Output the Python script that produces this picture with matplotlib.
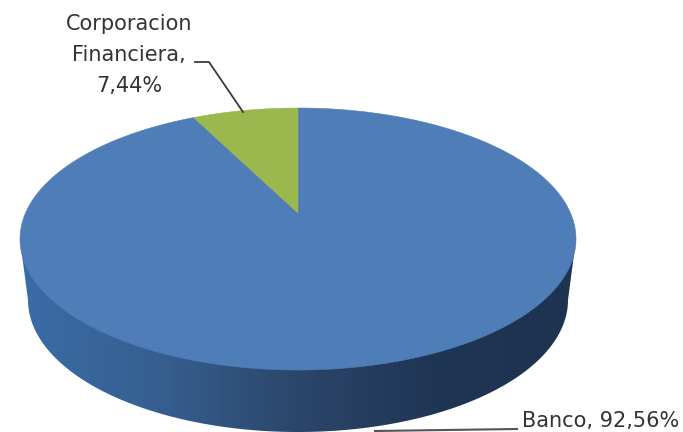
import numpy as np
import matplotlib
matplotlib.use("Agg")
import matplotlib.pyplot as plt
from matplotlib.colors import LinearSegmentedColormap
from matplotlib.patches import Polygon

plt.rcParams["font.family"] = "DejaVu Sans"

# pie data
categories = ["Banco", "Corporacion\nFinanciera,\n"]
shares = [92.56, 7.44]
colors = ["#4f7db8", "#9bb84f"]
side_colors = ["#3a6ca6", "#365f90", "#2b466a", "#1f3554", "#1e3350"]

W, H = 683, 432
cx = 298
far_y, apex_y, near_y = 108, 213, 370  # top ellipse, perspective centre
half_width = 278
side_cy, side_b, side_a = 300, 132, 270

# perspective map of the unit circle onto the top face
c = (near_y + far_y - 2 * apex_y) / (near_y - far_y)
a = far_y * c + far_y - apex_y
d = half_width * np.sqrt(1 - c ** 2)


def project(u, v):
    w = c * v + 1
    return cx + d * u / w, (a * v + apex_y) / w


def wedge(start, sweep):
    # angles in degrees, clockwise from 12 o'clock
    t = np.radians(np.linspace(start, start + sweep, 300))
    u = np.concatenate([[0], np.sin(t)])
    v = np.concatenate([[0], np.cos(t)])
    return np.column_stack(project(u, v))


fig = plt.figure(figsize=(W / 100, H / 100), dpi=100)
ax = fig.add_axes([0, 0, 1, 1])
ax.set_xlim(0, W)
ax.set_ylim(H, 0)
ax.axis("off")

# side of the cylinder, gradient clipped to the outline
t = np.linspace(0, 2 * np.pi, 600)
top_x, top_y = project(np.cos(t), np.sin(t))
right = np.argmax(top_x)
left = np.argmin(top_x)
s = np.linspace(0, np.pi, 300)
outline = np.column_stack([
    np.concatenate([[top_x[right]], cx + side_a * np.cos(s), [top_x[left]]]),
    np.concatenate([[top_y[right]], side_cy + side_b * np.sin(s), [top_y[left]]]),
])
side_patch = Polygon(outline, closed=True, facecolor="none", edgecolor="none")
ax.add_patch(side_patch)
cmap = LinearSegmentedColormap.from_list("side", side_colors)
grad = ax.imshow(np.linspace(0, 1, 512).reshape(1, -1), cmap=cmap, aspect="auto",
                 extent=(20, 576, H, 0), zorder=1)
grad.set_clip_path(side_patch)
ax.set_xlim(0, W)
ax.set_ylim(H, 0)

# top face, slices go clockwise from 12 o'clock
angle = 0
for share, color in zip(shares, colors):
    sweep = share / sum(shares) * 360
    ax.add_patch(Polygon(wedge(angle, sweep), closed=True, facecolor=color,
                         edgecolor=color, linewidth=0.4, zorder=2))
    angle += sweep

# leader lines
ax.plot([195, 209, 243], [62, 62, 112], color="#3a3a3a", lw=1.3, zorder=3)
ax.plot([375, 517], [431, 429], color="#555555", lw=1.5, zorder=3, clip_on=False)

# labels
txt = "#333333"
ax.text(129, 55, categories[1] + f"{shares[1]:.2f}%".replace(".", ","),
        ha="center", va="center", fontsize=15, color=txt, linespacing=1.68, zorder=4)
ax.text(522, 421, f"{categories[0]}, " + f"{shares[0]:.2f}%".replace(".", ","),
        ha="left", va="center", fontsize=15, color=txt, zorder=4)

fig.savefig("out.png", dpi=100)
